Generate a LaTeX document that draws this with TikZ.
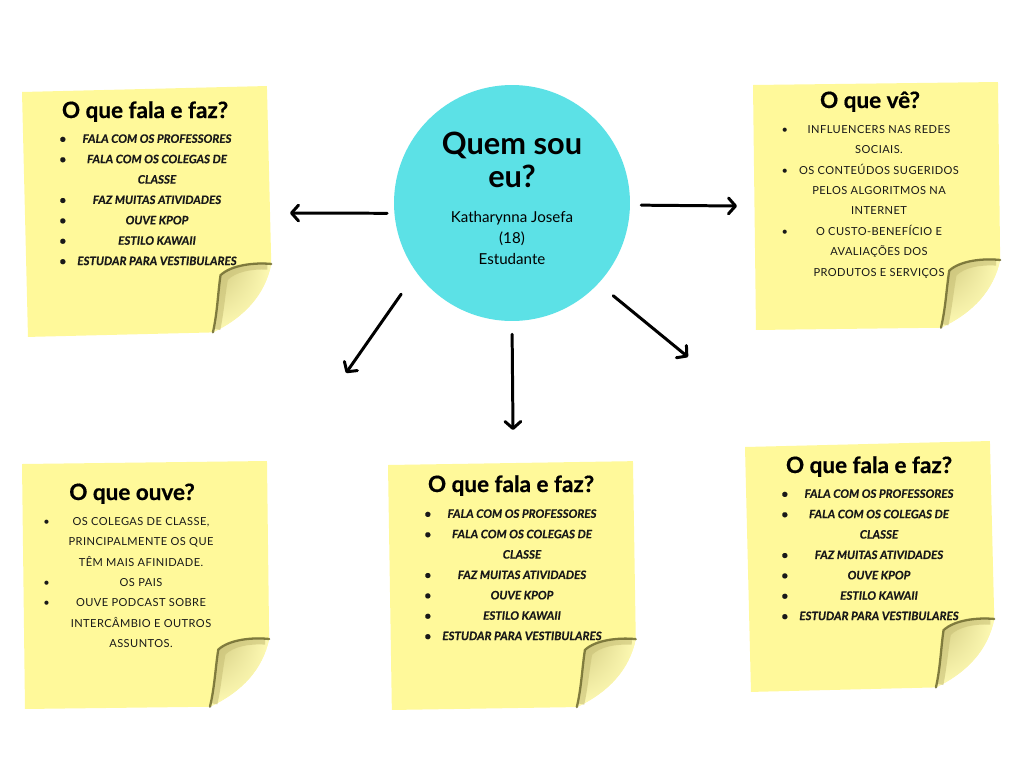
\documentclass[tikz,border=0pt]{standalone}
\usepackage{fontspec}
\setmainfont{Lato}
\newfontfamily\tracked[LetterSpace=4.0]{Lato}
\usepackage{xcolor}
\usetikzlibrary{arrows.meta, positioning, calc, shadings}

\definecolor{notefill}{HTML}{FFF99A}
\definecolor{circfill}{HTML}{5CE1E6}
\definecolor{curldark}{HTML}{6E6A30}
\definecolor{curlmid}{HTML}{C9C178}
\definecolor{curllight}{HTML}{FFFBB4}

\newlength{\lw}\setlength{\lw}{111pt}
\newcommand{\bitem}[1]{\hbox to \lw{\rlap{\textbullet}\hfil #1\hfil}}
\newcommand{\bmore}[1]{\hbox to \lw{\hfil #1\hfil}}

\tikzset{
  notetitle/.style={font=\bfseries\addfontfeature{FakeBold=0.6}\fontsize{12.8}{15}\selectfont, anchor=base, inner sep=0pt},
  notelist/.style={font=\bfseries\itshape\addfontfeature{FakeBold=0.4}\fontsize{6.6}{11.6}\selectfont, align=center, anchor=north, inner sep=0pt, text=black!90},
  noteplain/.style={notelist, font=\tracked\fontsize{6.3}{11.6}\selectfont},
  arrowline/.style={line width=1.7pt, line cap=round, -{Straight Barb[length=4pt,width=9pt,round]}},
  postit/.pic={
    % sheet
    \fill[notefill] (0,0) -- (245,0) -- (245,178) .. controls (238,208) and (218,230) .. (185,245) -- (0,245) -- cycle;
    % curled corner
    \shade[upper left=curlmid, upper right=curllight, lower left=curllight, lower right=curllight]
      (245,178) .. controls (228,176) and (205,178) .. (194,188) .. controls (191,205) and (190,225) .. (185,245)
      .. controls (218,230) and (238,208) .. (245,178) -- cycle;
    \draw[curlmid, line width=4pt, opacity=0.6]
      (241,180) .. controls (226,179) and (208,181) .. (198,191) .. controls (195,205) and (193,225) .. (189,242);
    \draw[curldark, line width=1.3pt, line cap=round, opacity=0.85]
      (245,178) .. controls (228,176) and (205,178) .. (194,188) .. controls (191,205) and (190,225) .. (185,245);
  }
}

\begin{document}
\begin{tikzpicture}[x=0.02cm, y=-0.02cm]
\fill[white] (0,0) rectangle (1024,768);
\useasboundingbox (0,0) rectangle (1024,768);

% Notes
\pic[rotate=1.4] at (22,92) {postit};
\pic[rotate=0.7] at (753,85) {postit};
\pic[rotate=0.7] at (22,464) {postit};
\pic[rotate=0.9] at (388,465) {postit};
\pic[rotate=1.4] at (745,447) {postit};

% Center
\node[circle, fill=circfill, minimum size=4.72cm, inner sep=0pt] (me) at (512,203) {};
\node[font=\bfseries\fontsize{17.5}{18.7}\selectfont, align=center, inner sep=0pt] (who) at (512,160) {Quem sou\\eu?};
\node[font=\fontsize{8.6}{12.2}\selectfont, align=center, inner sep=0pt] (name) at (512,238) {Katharynna Josefa\\(18)\\Estudante};

% Top left
\node[notetitle] (t1) at (145,118) {O que fala e faz?};
\node[notelist] (l1) at (157,134) {\bitem{FALA COM OS PROFESSORES}\\\bitem{FALA COM OS COLEGAS DE}\\\bmore{CLASSE}\\\bitem{FAZ MUITAS ATIVIDADES}\\\bitem{OUVE KPOP}\\\bitem{ESTILO KAWAII}\\\bitem{ESTUDAR PARA VESTIBULARES}};

% Top right
\node[notetitle] (t2) at (870,108) {O que vê?};
\node[noteplain] (l2) at (879,125) {\bitem{INFLUENCERS NAS REDES}\\\bmore{SOCIAIS.}\\\bitem{OS CONTEÚDOS SUGERIDOS}\\\bmore{PELOS ALGORITMOS NA}\\\bmore{INTERNET}\\\bitem{O CUSTO-BENEFÍCIO E}\\\bmore{AVALIAÇÕES DOS}\\\bmore{PRODUTOS E SERVIÇOS}};

% Bottom left
\node[notetitle] (t3) at (132,500) {O que ouve?};
\node[noteplain] (l3) at (141,517) {\bitem{OS COLEGAS DE CLASSE,}\\\bmore{PRINCIPALMENTE OS QUE}\\\bmore{TÊM MAIS AFINIDADE.}\\\bitem{OS PAIS}\\\bitem{OUVE PODCAST SOBRE}\\\bmore{INTERCÂMBIO E OUTROS}\\\bmore{ASSUNTOS.}};

% Bottom middle
\node[notetitle] (t4) at (511,492) {O que fala e faz?};
\node[notelist] (l4) at (522,509) {\bitem{FALA COM OS PROFESSORES}\\\bitem{FALA COM OS COLEGAS DE}\\\bmore{CLASSE}\\\bitem{FAZ MUITAS ATIVIDADES}\\\bitem{OUVE KPOP}\\\bitem{ESTILO KAWAII}\\\bitem{ESTUDAR PARA VESTIBULARES}};

% Bottom right
\node[notetitle] (t5) at (869,473) {O que fala e faz?};
\node[notelist] (l5) at (879,489) {\bitem{FALA COM OS PROFESSORES}\\\bitem{FALA COM OS COLEGAS DE}\\\bmore{CLASSE}\\\bitem{FAZ MUITAS ATIVIDADES}\\\bitem{OUVE KPOP}\\\bitem{ESTILO KAWAII}\\\bitem{ESTUDAR PARA VESTIBULARES}};

% Arrows
\coordinate (endW) at (290,213);
\coordinate (endE) at (737,206);
\coordinate (endSW) at (346,373);
\coordinate (endS) at (513,430);
\coordinate (endSE) at (688,357);
\draw[arrowline, shorten <=4pt] (me.185) -- (endW);
\draw[arrowline, shorten <=6.2pt] (me.-1.5) -- (endE);
\draw[arrowline, shorten <=15pt] (me.216) -- (endSW);
\draw[arrowline, shorten <=7.4pt] (me.south) -- (endS);
\draw[arrowline, shorten <=10.8pt] (me.317) -- (endSE);
\end{tikzpicture}
\end{document}
